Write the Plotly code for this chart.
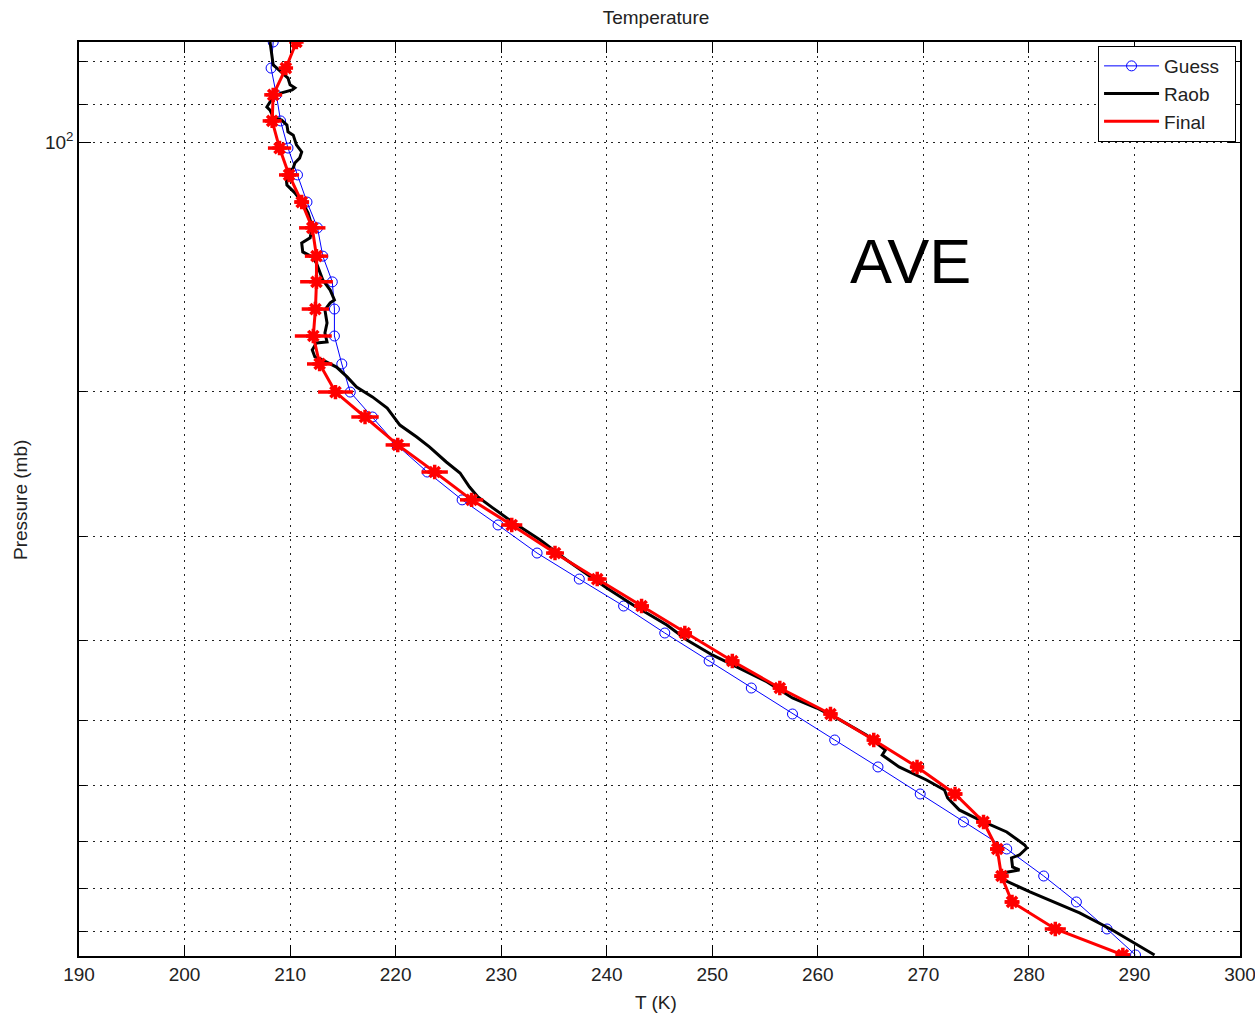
import plotly.graph_objects as go

# Model pressure levels (mb) shared by the guess and final profiles
levels_p = [75.7, 81.4, 87.7, 94.3, 101.7, 109.6, 118.2, 127.0, 137.4, 147.6,
            159.2, 171.6, 185.5, 200.6, 215.0, 232.4, 250.6, 270.8, 290.4, 314.0,
            337.6, 363.9, 392.3, 424.1, 457.2, 491.5, 528.4, 569.6, 614.1, 663.8,
            715.7, 771.6, 829.4, 894.2, 961.3]

# First-guess temperature (K)
guess_T = [208.4, 208.2, 208.7, 209.1, 209.8, 210.7, 211.6, 212.6, 213.1, 214.0,
           214.2, 214.2, 214.9, 215.7, 217.8, 220.1, 223.0, 226.3, 229.7, 233.4,
           237.4, 241.6, 245.5, 249.7, 253.7, 257.6, 261.6, 265.7, 269.7, 273.8,
           277.9, 281.4, 284.5, 287.4, 290.1]

# Final retrieved temperature (K) and its uncertainty (K)
final_T = [210.6, 209.6, 208.4, 208.3, 209.0, 209.9, 211.1, 212.1, 212.5, 212.5,
           212.4, 212.2, 212.8, 214.3, 217.1, 220.2, 223.7, 227.2, 231.0, 235.1,
           239.1, 243.3, 247.4, 251.9, 256.4, 261.2, 265.3, 269.4, 273.0, 275.7,
           277.0, 277.4, 278.4, 282.5, 288.9]
final_err = [0.5, 0.5, 0.85, 0.9, 1.1, 0.95, 0.7, 1.25, 1.1, 1.55,
             1.3, 1.75, 1.2, 1.65, 1.3, 1.15, 1.25, 1.1, 1.0, 0.85,
             0.9, 0.7, 0.65, 0.65, 0.65, 0.65, 0.6, 0.6, 0.7, 0.7,
             0.65, 0.65, 0.7, 1.0, 0.7]

# Radiosonde sounding
raob_p = [75.7, 78.5, 80.7, 81.4, 83.0, 83.7, 85.3, 86.0, 86.5, 87.2,
          88.2, 89.5, 90.7, 91.5, 93.3, 94.1, 95.4, 97.2, 98.1, 100.8,
          102.8, 104.6, 106.0, 107.5, 109.6, 112.7, 115.2, 118.5, 121.8, 126.7,
          130.6, 132.5, 135.8, 137.7, 140.1, 146.8, 151.0, 155.2, 156.5, 159.6,
          165.5, 170.2, 174.5, 175.0, 178.4, 181.9, 183.5, 187.1, 192.3, 197.8,
          203.3, 209.7, 219.9, 227.3, 233.7, 243.7, 251.3, 261.3, 268.6, 276.9,
          286.4, 302.8, 320.1, 346.1, 362.8, 383.6, 400.0, 417.0, 428.8, 449.5,
          470.1, 483.4, 499.7, 521.2, 543.3, 550.9, 569.6, 590.6, 607.3, 621.0,
          641.9, 660.1, 682.6, 707.7, 713.7, 727.7, 733.8, 752.3, 758.6, 765.0,
          773.5, 806.6, 855.1, 896.6, 961.3]
raob_T = [208.1, 208.3, 208.4, 208.75, 209.5, 209.8, 210.0, 210.45, 210.2, 209.2,
          208.4, 208.1, 207.8, 208.1, 208.4, 209.2, 209.7, 209.8, 210.3, 210.6,
          211.1, 210.9, 210.45, 210.3, 209.6, 209.7, 210.45, 211.2, 211.7, 212.1,
          211.9, 211.1, 211.2, 212.1, 212.5, 213.1, 213.8, 214.2, 213.8, 213.3,
          213.5, 213.3, 213.5, 212.5, 212.1, 212.35, 213.1, 214.4, 215.4, 216.3,
          217.8, 219.2, 220.4, 222.0, 223.2, 224.8, 226.1, 227.0, 227.8, 229.2,
          230.8, 233.7, 236.2, 240.0, 242.5, 245.7, 247.6, 250.0, 251.9, 255.2,
          257.6, 259.9, 262.1, 264.6, 266.4, 266.1, 267.7, 270.3, 272.0, 272.3,
          273.4, 275.3, 277.9, 279.6, 279.8, 279.1, 278.35, 278.45, 279.1, 277.5,
          277.0, 280.1, 284.8, 287.9, 291.9]

# Axis ticks
x_ticks = list(range(190, 301, 10))
p_major = [100]
p_minor = [80, 90, 200, 300, 400, 500, 600, 700, 800, 900]

FONT = "Liberation Sans, Arial, Helvetica, sans-serif"
PAD = "\u00a0\u00a0"  # right padding inside the legend box

fig = go.Figure()

fig.add_trace(go.Scatter(
    x=guess_T, y=levels_p, name="Guess" + PAD, mode="lines+markers",
    line=dict(color="#0000ff", width=1),
    marker=dict(symbol="circle-open", size=10, color="#0000ff", line=dict(width=1)),
))
fig.add_trace(go.Scatter(
    x=raob_T, y=raob_p, name="Raob", mode="lines",
    line=dict(color="#000000", width=3),
))
fig.add_trace(go.Scatter(
    x=final_T, y=levels_p, name="Final", mode="lines",
    line=dict(color="#ff0000", width=3),
))
fig.add_trace(go.Scatter(
    x=final_T, y=levels_p, name="Final", mode="markers", showlegend=False,
    marker=dict(symbol="asterisk-open", size=12, color="#ff0000",
                line=dict(color="#ff0000", width=3.5)),
    error_x=dict(type="data", array=final_err, color="#ff0000", thickness=3.5, width=0),
))

grid_style = dict(showgrid=True, gridcolor="#222222", gridwidth=1, griddash="2px,5px")

fig.update_xaxes(
    range=[190, 300], tickvals=x_ticks, ticks="inside", ticklen=11, tickwidth=1,
    tickcolor="black", showline=True, linecolor="black", linewidth=1.5, mirror="ticks",
    zeroline=False, tickfont=dict(family=FONT, size=19, color="#222"),
    ticklabeloverflow="allow", automargin=False,
    **grid_style,
)
fig.update_yaxes(
    type="log", range=[2.9841, 1.8791],
    tickvals=p_major, ticktext=["10<sup>2</sup>"], ticks="inside", ticklen=12,
    tickwidth=1, tickcolor="black", showline=True, linecolor="black", linewidth=1.5,
    mirror="ticks", zeroline=False, tickfont=dict(family=FONT, size=19, color="#222"),
    automargin=False,
    minor=dict(tickvals=p_minor, ticks="inside", ticklen=7, tickcolor="black",
               showgrid=True, gridcolor="#222222", gridwidth=1, griddash="2px,5px"),
    **grid_style,
)

fig.update_layout(
    width=1255, height=1017,
    margin=dict(l=79, r=15, t=42, b=61, autoexpand=False),
    paper_bgcolor="white", plot_bgcolor="white",
    font=dict(family=FONT, size=19, color="#222"),
    title=dict(text="Temperature", x=0.497, xref="paper", xanchor="center",
               y=0.9833, yref="container", yanchor="middle",
               font=dict(family=FONT, size=19, color="#222")),
    legend=dict(x=0.9966, y=0.9956, xanchor="right", yanchor="top",
                bgcolor="white", bordercolor="black", borderwidth=1,
                font=dict(family=FONT, size=19, color="#222"), itemwidth=55,
                tracegroupgap=0),
    annotations=[
        dict(text="AVE", x=0.7158, y=0.7604, xref="paper", yref="paper",
             xanchor="center", yanchor="middle", showarrow=False,
             font=dict(family=FONT, size=63, color="black")),
        dict(text="T (K)", x=0.497, y=-0.0514, xref="paper", yref="paper",
             xanchor="center", yanchor="middle", showarrow=False,
             font=dict(family=FONT, size=19, color="#222")),
        dict(text="Pressure (mb)", x=-0.0508, y=0.4989, xref="paper", yref="paper",
             xanchor="center", yanchor="middle", showarrow=False, textangle=-90,
             font=dict(family=FONT, size=19, color="#222")),
    ],
)

fig.write_html("out.html")
